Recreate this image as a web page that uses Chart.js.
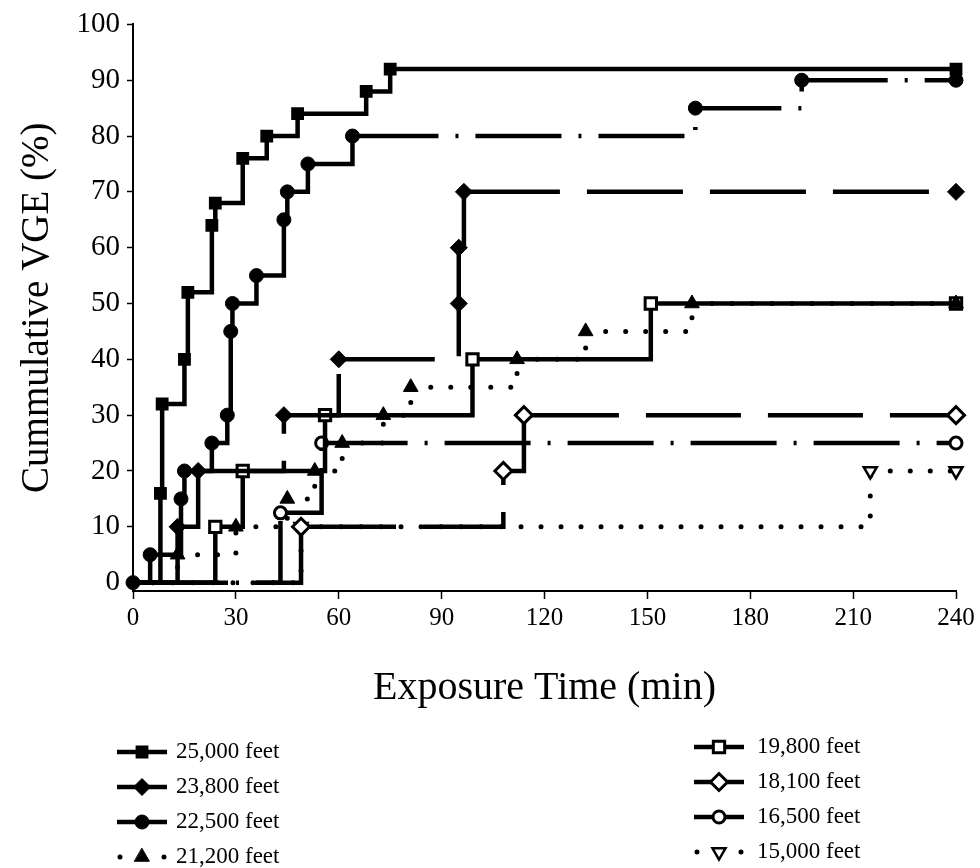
<!DOCTYPE html>
<html>
<head>
<meta charset="utf-8">
<title>Cummulative VGE</title>
<script src="https://cdn.jsdelivr.net/npm/chart.js@4.4.1/dist/chart.umd.min.js"></script>
<style>
  html, body { margin: 0; padding: 0; background: #fff; }
  #grafVGE { display: block; }
</style>
</head>
<body>
<canvas id="grafVGE" width="980" height="868"></canvas>
<script>
// legend labels
const altitudes = ['25,000 feet', '23,800 feet', '22,500 feet', '21,200 feet',
                   '19,800 feet', '18,100 feet', '16,500 feet', '15,000 feet'];

// exposure time (min) of each step and cumulative VGE (%) after it
const tempo25000 = [0, 8, 8.5, 15, 16, 23, 24, 32, 39, 48, 68, 75, 240];
const vge25000   = [0, 16, 32, 40, 52, 64, 68, 76, 80, 84, 88, 92, 92];

const tempo23800 = [0, 13, 19, 44, 60, 95, 95, 96.5, 240];
const vge23800   = [0, 10, 20, 30, 40, 50, 60, 70, 70];

const tempo22500 = [0, 5, 14, 15, 23, 27.5, 28.5, 29, 36, 44, 45, 51, 64, 164, 195, 240];
const vge22500   = [0, 5, 15, 20, 25, 30, 45, 50, 55, 65, 70, 75, 80, 85, 90, 90];

const tempo21200 = [0, 13, 30, 45, 53, 61, 73, 81, 112, 132, 163, 240];
const vge21200   = [0, 5, 10, 15, 20, 25, 30, 35, 40, 45, 50, 50];

const tempo19800 = [0, 24, 32, 56, 99, 151, 240];
const vge19800   = [0, 10, 20, 30, 40, 50, 50];

const tempo18100 = [0, 49, 108, 114, 240];
const vge18100   = [0, 10, 20, 30, 30];

const tempo16500 = [0, 43, 55, 240];
const vge16500   = [0, 12.5, 25, 25];

const tempo15000 = [0, 49, 215, 240];
const vge15000   = [0, 10, 20, 20];

const xTicks = [0, 30, 60, 90, 120, 150, 180, 210, 240];
const yTicks = [0, 10, 20, 30, 40, 50, 60, 70, 80, 90, 100];

const series = [
    [tempo25000, vge25000], [tempo23800, vge23800], [tempo22500, vge22500], [tempo21200, vge21200],
    [tempo19800, vge19800], [tempo18100, vge18100], [tempo16500, vge16500], [tempo15000, vge15000]
];

// look of each line
const estilos = [
    {ponto: 'rect',     cheio: true,  raio: 8,   borda: 1.5, traco: []},
    {ponto: 'rectRot',  cheio: true,  raio: 8.5, borda: 1,   traco: [96, 27]},
    {ponto: 'circle',   cheio: true,  raio: 7,   borda: 1,   traco: [86, 17, 3, 17]},
    {ponto: 'triangle', cheio: true,  raio: 8.5, borda: 1,   traco: [0, 20], pontilhado: true},
    {ponto: 'rect',     cheio: false, raio: 8,   borda: 3,   traco: []},
    {ponto: 'rectRot',  cheio: false, raio: 8.5, borda: 3,   traco: [95, 27]},
    {ponto: 'circle',   cheio: false, raio: 6,   borda: 3,   traco: [86, 17, 3, 17]},
    {ponto: 'triangle', cheio: false, raio: 7.5, borda: 2.5, traco: [0, 20], pontilhado: true, rot: 180}
];

const fonte = '"Liberation Serif", "Times New Roman", serif';

let datasets = series.map((s, i) => {
    const e = estilos[i];
    const periodo = e.traco.reduce((a, b) => a + b, 0);
    return {
        label: altitudes[i],
        data: s[0].map((t, k) => ({x: t, y: s[1][k]})),
        stepped: 'before',
        borderColor: '#000',
        borderWidth: e.pontilhado ? 5 : 4.5,
        borderDash: e.traco,
        borderCapStyle: e.pontilhado ? 'round' : 'butt',
        // the dash pattern starts again on every step, as in the original plot
        segment: {
            borderDashOffset: c => (c.p0DataIndex % 2) * periodo
        },
        fill: false,
        clip: false,
        pointStyle: e.ponto,
        pointRotation: e.rot || 0,
        pointBackgroundColor: e.cheio ? '#000' : '#fff',
        pointBorderColor: '#000',
        pointBorderWidth: e.borda,
        // only the 22,500 feet curve shows its marker at the origin
        pointRadius: c => (c.dataIndex === 0 && i !== 2) ? 0 : e.raio,
        pointHoverRadius: e.raio
    };
});

const legendaColunas = {
    id: 'legendaColunas',
    afterDraw(chart) {
        const ctx = chart.ctx;
        chart.data.datasets.forEach((ds, i) => {
            const e = estilos[i];
            const col = i < 4 ? 0 : 1;
            const cx = col === 0 ? 142 : 719;
            const cy = (col === 0 ? 752 : 747) + (i % 4) * 35;
            ctx.save();
            ctx.strokeStyle = '#000';
            ctx.lineWidth = ds.borderWidth;
            ctx.beginPath();
            if (e.pontilhado) {
                ctx.lineCap = 'round';
                ctx.setLineDash([0, 22]);
                ctx.moveTo(cx - 22, cy);
                ctx.lineTo(cx + 23, cy);
            } else {
                ctx.moveTo(cx - 25, cy);
                ctx.lineTo(cx + 25, cy);
            }
            ctx.stroke();
            ctx.setLineDash([]);
            ctx.fillStyle = e.cheio ? '#000' : '#fff';
            ctx.strokeStyle = '#000';
            ctx.lineWidth = e.borda;
            Chart.helpers.drawPoint(ctx, {
                pointStyle: e.ponto, rotation: e.rot || 0, radius: e.raio, borderWidth: e.borda
            }, cx, cy);
            ctx.fillStyle = '#000';
            ctx.font = '23px ' + fonte;
            ctx.textAlign = 'left';
            ctx.textBaseline = 'middle';
            ctx.fillText(ds.label, cx + (col === 0 ? 34 : 38), cy);
            ctx.restore();
        });
    }
};

let grafVGE = new Chart(document.getElementById('grafVGE').getContext('2d'), {
    type: 'line',
    data: { datasets: datasets },
    options: {
        responsive: false,
        animation: false,
        devicePixelRatio: 1,
        layout: { padding: { left: 0, top: 20, right: 24, bottom: 156 } },
        plugins: {
            legend: { display: false },
            tooltip: { enabled: false }
        },
        scales: {
            x: {
                type: 'linear',
                min: 0,
                max: 240,
                afterFit: s => { s.height = 121; },
                afterBuildTicks: s => { s.ticks = xTicks.map(v => ({value: v})); },
                border: { display: true, color: '#000', width: 2 },
                grid: { drawOnChartArea: false, drawTicks: true, tickLength: 8, color: '#000', tickWidth: 1.5 },
                ticks: { color: '#000', padding: 4, font: { family: fonte, size: 25 }, maxRotation: 0 },
                title: { display: true, text: 'Exposure Time (min)', color: '#000',
                         font: { family: fonte, size: 40 }, padding: 0 }
            },
            y: {
                type: 'linear',
                min: -1.5,
                max: 100,
                afterFit: s => { s.width = 133; },
                afterBuildTicks: s => { s.ticks = yTicks.map(v => ({value: v})); },
                border: { display: true, color: '#000', width: 2 },
                grid: { drawOnChartArea: false, drawTicks: true, tickLength: 6, color: '#000', tickWidth: 1.5 },
                ticks: { color: '#000', padding: 7, font: { family: fonte, size: 29 } },
                title: { display: true, text: 'Cummulative VGE (%)', color: '#000',
                         font: { family: fonte, size: 39 }, padding: { top: 14, bottom: 0 } }
            }
        }
    },
    plugins: [legendaColunas]
});
</script>
</body>
</html>
